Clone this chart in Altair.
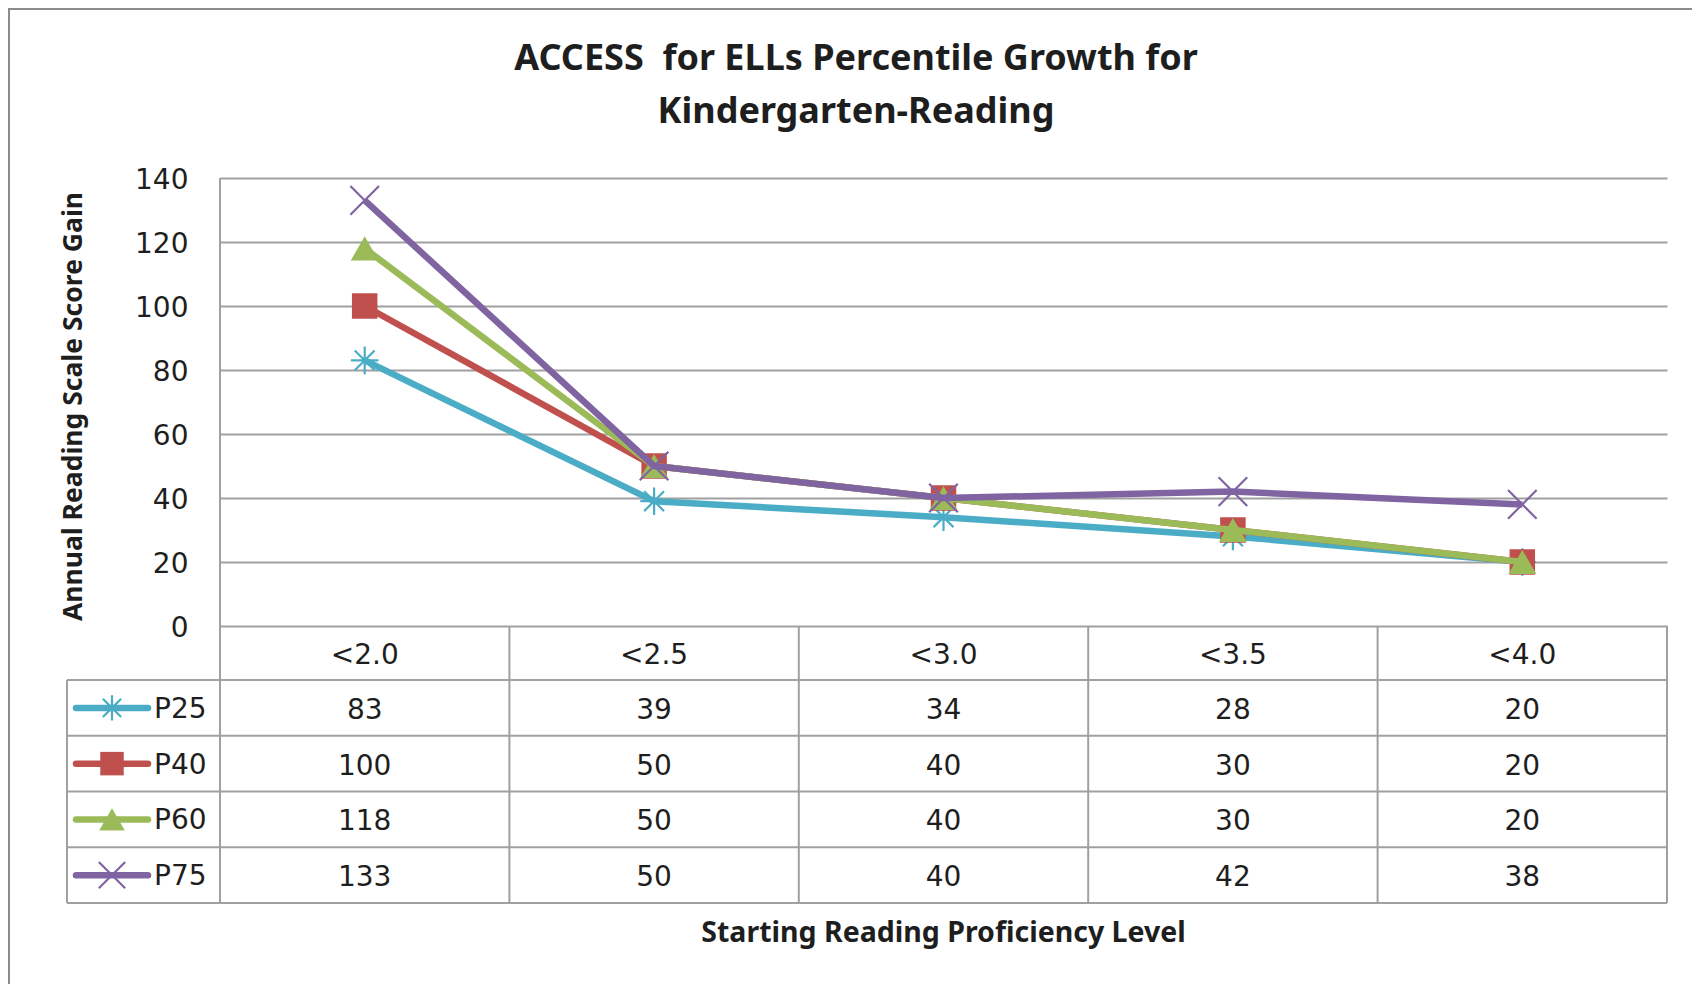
import altair as alt
import pandas as pd

# ---- data -------------------------------------------------------------
categories = ["<2.0", "<2.5", "<3.0", "<3.5", "<4.0"]
series = ["P25", "P40", "P60", "P75"]
p25 = [83, 39, 34, 28, 20]
p40 = [100, 50, 40, 30, 20]
p60 = [118, 50, 40, 30, 20]
p75 = [133, 50, 40, 42, 38]
y_ticks = [0, 20, 40, 60, 80, 100, 120, 140]
title_lines = ["ACCESS\u00a0 for ELLs Percentile Growth for", "Kindergarten-Reading"]
y_title = "Annual Reading Scale Score Gain"
x_title = "Starting Reading Proficiency Level"

# ---- styling ----------------------------------------------------------
colors = ["#4BACC6", "#C0504D", "#9BBB59", "#8064A2"]
GRID = "#A0A0A0"
TEXT = "#1E1E1E"
NUM_FONT = "DejaVu Sans"
TITLE_FONT = "Noto Sans"
ASTERISK = "M0,-1L0,1M-1,0L1,0M-0.72,-0.72L0.72,0.72M-0.72,0.72L0.72,-0.72"
XMARK = "M-1,-1L1,1M-1,1L1,-1"

W, H = 1447, 448
ROW_LINES = [502, 557.75, 613.5, 669.25, 725]
HEADER_Y = (H + ROW_LINES[0]) / 2 + 3
ROW_MID = [(ROW_LINES[i] + ROW_LINES[i + 1]) / 2 for i in range(4)]
LEG_LEFT = -153

values = [p25, p40, p60, p75]
df = pd.DataFrame(
    [{"series": s, "cat": c, "value": v}
     for s, vals in zip(series, values) for c, v in zip(categories, vals)]
)
one = pd.DataFrame({"k": [0]})

xscale = alt.Scale(type="band", domain=categories, paddingInner=0, paddingOuter=0)
X = alt.X("cat:N", scale=xscale, sort=categories, axis=None)
Y = alt.Y(
    "value:Q",
    scale=alt.Scale(domain=[0, 140], nice=False, zero=True),
    axis=alt.Axis(
        values=y_ticks, grid=True, gridColor=GRID, gridWidth=2, domain=False,
        ticks=False, labelFont=NUM_FONT, labelFontSize=28, labelColor=TEXT,
        labelPadding=32, labelOffset=2, title=y_title, titleFont=TITLE_FONT,
        titleFontWeight="bold", titleFontSize=26.5, titleColor=TEXT,
        titleX=-147, titleY=228, titleAlign="center", titleBaseline="middle",
        titleAngle=270,
    ),
)

def rule(x, x2=None, y=None, y2=None, color=GRID, width=2):
    enc = {"x": alt.value(x), "y": alt.value(y)}
    if x2 is not None:
        enc["x2"] = alt.value(x2)
    if y2 is not None:
        enc["y2"] = alt.value(y2)
    return alt.Chart(one).mark_rule(color=color, strokeWidth=width).encode(**enc)

def marker(name, color):
    if name == "P25":
        return dict(shape=ASTERISK, filled=False, size=760, strokeWidth=2.2, color=color, opacity=1)
    if name == "P40":
        return dict(shape="square", filled=True, size=650, color=color, opacity=1)
    if name == "P60":
        return dict(shape="triangle-up", filled=True, size=780, color=color, opacity=1)
    return dict(shape=XMARK, filled=False, size=820, strokeWidth=2.2, color=color, opacity=1)

layers = []

# frame
layers.append(
    alt.Chart(one).mark_rect(filled=False, stroke="#8C8C8C", strokeWidth=2).encode(
        x=alt.value(-211), x2=alt.value(W + 80), y=alt.value(-169), y2=alt.value(H + 400)
    )
)

# base chart with y axis (gridlines)
base = alt.Chart(df).mark_line(opacity=0).encode(x=X, y=Y)
layers.append(base)

# table grid
layers.append(rule(0, y=0, y2=ROW_LINES[-1]))
layers.append(rule(W, y=H, y2=ROW_LINES[-1]))
layers.append(rule(LEG_LEFT, y=ROW_LINES[0], y2=ROW_LINES[-1]))
for yy in ROW_LINES:
    layers.append(rule(LEG_LEFT, x2=W, y=yy))
layers.append(
    alt.Chart(pd.DataFrame({"cat": categories[1:]})).mark_rule(color=GRID, strokeWidth=2).encode(
        x=alt.X("cat:N", scale=xscale, sort=categories, axis=None, bandPosition=0),
        y=alt.value(H), y2=alt.value(ROW_LINES[-1]),
    )
)

# series lines + markers
for s, col in zip(series, colors):
    sub = df[df["series"] == s]
    layers.append(
        alt.Chart(sub).mark_line(color=col, strokeWidth=6.5, strokeJoin="round").encode(x=X, y=Y)
    )
    layers.append(alt.Chart(sub).mark_point(**marker(s, col)).encode(x=X, y=Y))

# header row
layers.append(
    alt.Chart(pd.DataFrame({"cat": categories})).mark_text(
        font=NUM_FONT, fontSize=28, color=TEXT, baseline="middle"
    ).encode(x=X, y=alt.value(HEADER_Y), text="cat:N")
)

# value rows + legend keys
for s, col, rm in zip(series, colors, ROW_MID):
    sub = df[df["series"] == s]
    layers.append(
        alt.Chart(sub).mark_text(font=NUM_FONT, fontSize=28, color=TEXT, baseline="middle").encode(
            x=X, y=alt.value(rm + 3), text="value:Q"
        )
    )
    layers.append(
        alt.Chart(one).mark_rule(color=col, strokeWidth=6.5, strokeCap="round").encode(
            x=alt.value(-144), x2=alt.value(-72), y=alt.value(rm)
        )
    )
    mk = marker(s, col)
    mk["size"] = int(mk["size"] * 0.85)
    layers.append(
        alt.Chart(one).mark_point(**mk).encode(x=alt.value(-108), y=alt.value(rm))
    )
    layers.append(
        alt.Chart(pd.DataFrame({"name": [s]})).mark_text(
            font=NUM_FONT, fontSize=28, color=TEXT, align="left", baseline="middle"
        ).encode(x=alt.value(-66), y=alt.value(rm + 2), text="name:N")
    )

# titles
for line, yy in zip(title_lines, [-119, -66]):
    layers.append(
        alt.Chart(pd.DataFrame({"t": [line]})).mark_text(
            font=TITLE_FONT, fontSize=36, fontWeight="bold", color=TEXT,
            align="center", baseline="middle"
        ).encode(x=alt.value(636), y=alt.value(yy), text="t:N")
    )
layers.append(
    alt.Chart(pd.DataFrame({"t": [x_title]})).mark_text(
        font=TITLE_FONT, fontSize=28.5, fontWeight="bold", color=TEXT,
        align="center", baseline="middle"
    ).encode(x=alt.value(W / 2), y=alt.value(755), text="t:N")
)

chart = alt.layer(*layers).properties(
    width=W, height=H,
    autosize=alt.AutoSizeParams(type="none"),
    padding={"left": 212, "top": 170, "right": 25, "bottom": 358},
    background="white",
).configure_view(stroke=None)

chart.save("out.html", embed_options={"renderer": "svg", "actions": False})
